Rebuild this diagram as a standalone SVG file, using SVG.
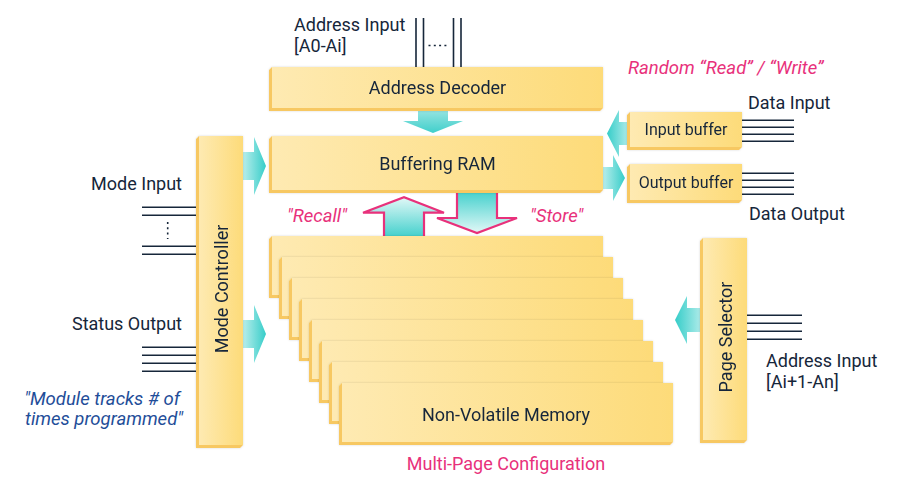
<svg xmlns="http://www.w3.org/2000/svg" width="900" height="490" viewBox="0 0 900 490">
<defs>
<linearGradient id="face" x1="0" y1="0" x2="1" y2="0"><stop offset="0" stop-color="#FEEAB2"/><stop offset="1" stop-color="#FDDB79"/></linearGradient>
<linearGradient id="tR" x1="0" y1="0" x2="1" y2="0"><stop offset="0" stop-color="#B8EEEC"/><stop offset="1" stop-color="#36CDC9"/></linearGradient>
<linearGradient id="tL" x1="1" y1="0" x2="0" y2="0"><stop offset="0" stop-color="#B8EEEC"/><stop offset="1" stop-color="#36CDC9"/></linearGradient>
<linearGradient id="tD" x1="0" y1="0" x2="0" y2="1"><stop offset="0" stop-color="#9EE6E3"/><stop offset="1" stop-color="#40CFCB"/></linearGradient>
<linearGradient id="tUp" x1="0" y1="0" x2="0" y2="1"><stop offset="0" stop-color="#E2F8F7"/><stop offset="1" stop-color="#36CDC9"/></linearGradient>
<linearGradient id="tDn" x1="0" y1="0" x2="0" y2="1"><stop offset="0" stop-color="#36CDC9"/><stop offset="1" stop-color="#E2F8F7"/></linearGradient>
<filter id="sh" x="-10%" y="-10%" width="120%" height="130%"><feDropShadow dx="0" dy="0" stdDeviation="1.2" flood-color="#000" flood-opacity="0.15"/></filter>
</defs>
<style>
.edge{fill:#F7C862}
.face{fill:url(#face)}
.t{font-family:Roboto,"Noto Sans",sans-serif;fill:#16263A}
.lg{font-size:18px}
.md{font-size:16px}
.pk{font-family:Roboto,"Noto Sans",sans-serif;fill:#E8317B;font-size:18px}
.it{font-style:italic;font-size:18.5px}
.bl{font-family:Roboto,"Noto Sans",sans-serif;fill:#1F4E99;font-size:18.5px;font-style:italic}
.ln{stroke:#16263A;stroke-width:1.6;fill:none}
.dot{stroke:#16263A;stroke-width:1.6;stroke-dasharray:2 3.3;fill:none}
.pa{stroke:#E8317B;stroke-width:2.2;stroke-linejoin:miter}
</style>

<g id="connectors">
  <path class="ln" d="M416,18V67M423.5,18V67M453.5,18V67M461,18V67"/>
  <path class="dot" d="M428.5,45.5H446.5"/>
  <polygon fill="url(#tD)" points="418,108 448,108 448,121 463,121 433,133 403,121 418,121"/>
  <polygon fill="url(#tL)" points="630,122 619,122 619,110 607,133.5 619,157 619,145 630,145"/>
  <polygon fill="url(#tR)" points="603,167 613,167 613,155 625,178 613,201 613,189 603,189"/>
  <path class="ln" d="M742,120.3H794M742,127.3H794M742,134.3H794M742,141.3H794"/>
  <path class="ln" d="M742,173.3H794M742,180.3H794M742,187.3H794M742,194.3H794"/>
  <polygon fill="url(#tR)" points="243,152 254,152 254,137 266,166 254,195 254,180 243,180"/>
  <polygon fill="url(#tR)" points="243,320 254,320 254,305 266,334 254,363 254,348 243,348"/>
  <path class="ln" d="M142,207.3H196M142,215.3H196M142,246.3H196M142,254.3H196"/>
  <path class="dot" d="M167.7,222V239"/>
  <path class="ln" d="M142,347.3H196M142,355.3H196M142,363.3H196M142,371.3H196"/>
  <polygon class="pa" fill="url(#tUp)" points="384,240 384,212.7 363,212.7 404,197.3 444,212.7 424,212.7 424,240"/>
  <polygon class="pa" fill="url(#tDn)" points="457,188 457,218 437,218 477,233 517,218 497,218 497,188"/>
  <polygon fill="url(#tL)" points="703,308 687,308 687,296 675,320 687,344 687,332 703,332"/>
  <path class="ln" d="M747,315.3H802M747,323.3H802M747,331.3H802M747,339.3H802"/>
</g>

<g id="address-decoder" filter="url(#sh)">
  <polygon class="edge" points="272,67 269,70 269,111 600,111 603,108 272,108"/>
  <rect class="face" x="272" y="67" width="331" height="41"/>
  <text class="t lg" x="437.5" y="94" text-anchor="middle">Address Decoder</text>
</g>

<g id="buffering-ram" filter="url(#sh)">
  <polygon class="edge" points="272,136 269,139 269,193 600,193 603,190 272,190"/>
  <rect class="face" x="272" y="136" width="331" height="54"/>
  <text class="t lg" x="437.5" y="170" text-anchor="middle">Buffering RAM</text>
</g>

<g id="input-buffer" filter="url(#sh)">
  <polygon class="edge" points="630,112 627,115 627,150 739,150 742,147 630,147"/>
  <rect class="face" x="630" y="112" width="112" height="35"/>
  <text class="t md" x="686" y="135" text-anchor="middle">Input buffer</text>
</g>

<g id="output-buffer" filter="url(#sh)">
  <polygon class="edge" points="630,164 627,167 627,203 739,203 742,200 630,200"/>
  <rect class="face" x="630" y="164" width="112" height="36"/>
  <text class="t md" x="686" y="188" text-anchor="middle">Output buffer</text>
</g>

<g id="mode-controller" filter="url(#sh)">
  <polygon class="edge" points="199,136 196,139 196,448 240,448 243,445 199,445"/>
  <rect class="face" x="199" y="136" width="44" height="309"/>
  <text class="t lg" transform="translate(227.5,289) rotate(-90)" text-anchor="middle">Mode Controller</text>
</g>

<g id="page-selector" filter="url(#sh)">
  <polygon class="edge" points="703,238 700,241 700,443 744,443 747,440 703,440"/>
  <rect class="face" x="703" y="238" width="44" height="202"/>
  <text class="t lg" transform="translate(731.5,337) rotate(-90)" text-anchor="middle">Page Selector</text>
</g>

<g id="non-volatile-memory">
  <g filter="url(#sh)">
    <polygon class="edge" points="272,236 269,239 269,298 600,298 603,295 272,295"/>
    <rect class="face" x="272" y="236" width="331" height="59"/>
  </g>
  <g filter="url(#sh)">
    <polygon class="edge" points="282,257 279,260 279,319 610,319 613,316 282,316"/>
    <rect class="face" x="282" y="257" width="331" height="59"/>
  </g>
  <g filter="url(#sh)">
    <polygon class="edge" points="292,278 289,281 289,340 620,340 623,337 292,337"/>
    <rect class="face" x="292" y="278" width="331" height="59"/>
  </g>
  <g filter="url(#sh)">
    <polygon class="edge" points="302,299 299,302 299,361 630,361 633,358 302,358"/>
    <rect class="face" x="302" y="299" width="331" height="59"/>
  </g>
  <g filter="url(#sh)">
    <polygon class="edge" points="312,320 309,323 309,382 640,382 643,379 312,379"/>
    <rect class="face" x="312" y="320" width="331" height="59"/>
  </g>
  <g filter="url(#sh)">
    <polygon class="edge" points="322,341 319,344 319,403 650,403 653,400 322,400"/>
    <rect class="face" x="322" y="341" width="331" height="59"/>
  </g>
  <g filter="url(#sh)">
    <polygon class="edge" points="332,362 329,365 329,424 660,424 663,421 332,421"/>
    <rect class="face" x="332" y="362" width="331" height="59"/>
  </g>
  <g filter="url(#sh)">
    <polygon class="edge" points="342,383 339,386 339,445 670,445 673,442 342,442"/>
    <rect class="face" x="342" y="383" width="331" height="59"/>
    <text class="t lg" x="506" y="421" text-anchor="middle">Non-Volatile Memory</text>
  </g>
</g>

<g id="labels">
  <text class="t lg" x="294" y="31">Address Input</text>
  <text class="t lg" x="294" y="52">[A0-Ai]</text>
  <text class="pk it" x="628" y="74">Random “Read” / “Write”</text>
  <text class="t lg" x="748" y="109">Data Input</text>
  <text class="t lg" x="749" y="220">Data Output</text>
  <text class="t lg" x="182" y="190" text-anchor="end">Mode Input</text>
  <text class="t lg" x="182" y="330" text-anchor="end">Status Output</text>
  <text class="bl" x="180" y="405" text-anchor="end">"Module tracks # of</text>
  <text class="bl" x="183" y="425" text-anchor="end">times programmed"</text>
  <text class="pk it" x="287" y="222">"Recall"</text>
  <text class="pk it" x="530" y="222">"Store"</text>
  <text class="pk" x="506" y="470" text-anchor="middle">Multi-Page Configuration</text>
  <text class="t lg" x="766" y="367">Address Input</text>
  <text class="t lg" x="766" y="388">[Ai+1-An]</text>
</g>
</svg>
